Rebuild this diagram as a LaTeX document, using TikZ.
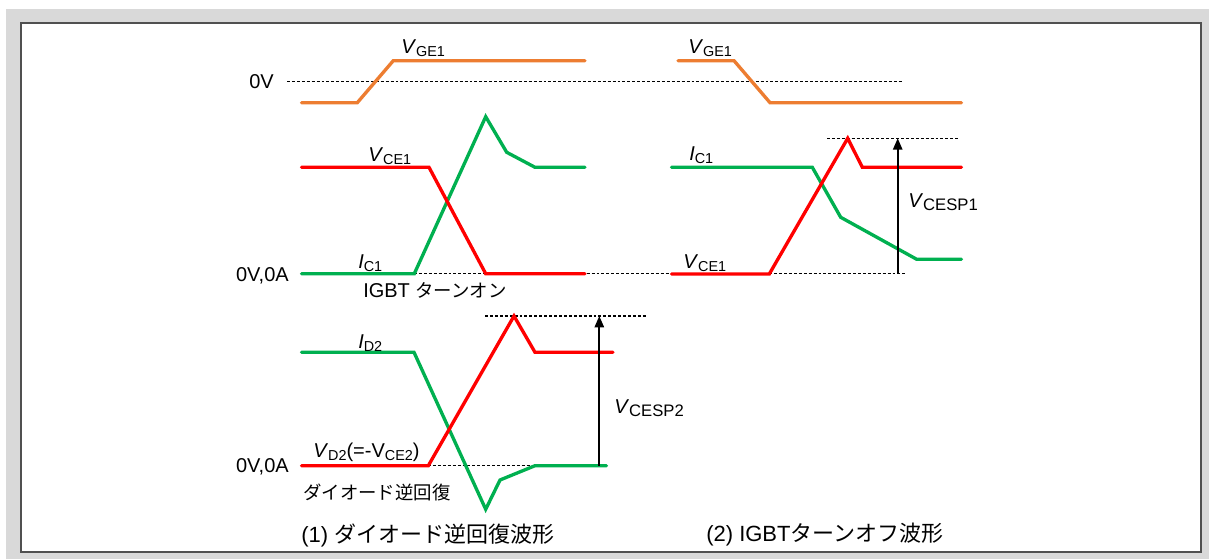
\documentclass[tikz,border=0pt]{standalone}
\usepackage{fontspec}
\setmainfont{Liberation Sans}
\newfontfamily\jp{Noto Sans CJK JP}
\usetikzlibrary{arrows.meta}
\definecolor{wfOrange}{RGB}{237,125,49}
\definecolor{wfRed}{RGB}{255,0,0}
\definecolor{wfGreen}{RGB}{0,176,80}
\definecolor{bgGray}{RGB}{217,217,217}
\definecolor{frameGray}{RGB}{80,80,80}
\newcommand\lblfont{\fontsize{15}{18}\selectfont}
\newcommand\capfont{\fontsize{16.5}{20}\selectfont}
\newcommand\jpl{\jp\fontsize{13.8}{16}\selectfont}
\newcommand\jpc{\jp\fontsize{16.5}{20}\selectfont}
\newcommand\sbs[1]{\raisebox{-2.3pt}{\fontsize{10.8}{12}\selectfont #1}}
\newcommand\sbl[1]{\raisebox{-2.3pt}{\fontsize{12.5}{14}\selectfont #1}}
\begin{document}
\begin{tikzpicture}[x=0.75pt,y=-0.75pt,
  wave/.style={line width=2.5pt, line cap=round},
  guide/.style={line width=1.05pt, dash pattern=on 2.2pt off 1.5pt},
  meas/.style={line width=1.3pt, -{Triangle[length=8.5pt,width=7pt]}},
  lab/.style={inner sep=0pt, anchor=base west, font=\lblfont},
  capt/.style={inner sep=0pt, anchor=west, font=\capfont}]
\useasboundingbox (0,0) rectangle (1209,559);
\fill[white] (0,0) rectangle (1209,559);
\fill[bgGray] (6,9) rectangle (1209,559);
\draw[fill=white, draw=frameGray, line width=1.2pt] (21,23) rectangle (1201,552);

% guide lines
\draw[guide] (287,81.7) -- (903,81.7);
\draw[guide] (414,273.7) -- (905,273.7);
\draw[guide] (827,138.3) -- (960,138.3);
\draw[guide] (428,465.7) -- (600,465.7);
\draw[guide] (485,316) -- (647,316);

% gate voltages
\draw[wave, wfOrange] (301.5,102.7) -- (357.3,102.7) -- (393.3,60.7) -- (585,60.7);
\draw[wave, wfOrange] (678,60.7) -- (734,60.7) -- (770,102.7) -- (961.5,102.7);

% IGBT turn-on
\draw[wave, wfGreen] (301.5,273.7) -- (414.3,273.7) -- (485.7,116.7) -- (506.7,152.3) -- (535,167.3) -- (585,167.3);
\draw[wave, wfRed] (301.5,167.3) -- (429,167.3) -- (485.7,273.7) -- (585,273.7);

% IGBT turn-off
\draw[wave, wfGreen] (671.5,167.3) -- (812.3,167.3) -- (840.7,217.3) -- (916.7,259.3) -- (961.5,259.3);
\draw[wave, wfRed] (671.5,274) -- (769.3,274) -- (847.7,138.3) -- (862.3,167.3) -- (961.5,167.3);

% diode reverse recovery
\draw[wave, wfGreen] (301.5,352.3) -- (414,352.3) -- (485.7,509.3) -- (500,480) -- (535,465.7) -- (606.5,465.7);
\draw[wave, wfRed] (301.5,465.7) -- (428.3,465.7) -- (514,316) -- (535,352.3) -- (613,352.3);

% measurement arrows
\coordinate (sp1lo) at (897.7,274);
\coordinate (sp1hi) at (897.7,138.3);
\coordinate (sp2lo) at (599.3,465.7);
\coordinate (sp2hi) at (599.3,316);
\draw[meas] (sp1lo) -- (sp1hi);
\draw[meas] (sp2lo) -- (sp2hi);

% labels
\node[lab, anchor=base east] (zv) at (274,88.3) {0V};
\node[lab, anchor=base east] (za1) at (289,281.5) {0V,0A};
\node[lab, anchor=base east] (za2) at (289,472.5) {0V,0A};
\node[lab] (vge1a) at (401,53.3) {\textit{V}\sbs{GE1}};
\node[lab] (vge1b) at (688,53.3) {\textit{V}\sbs{GE1}};
\node[lab] (vce1a) at (368,161.7) {\textit{V}\sbs{CE1}};
\node[lab] (ic1a) at (358,268.3) {\textit{I}\sbs{C1}};
\node[lab] (ton) at (363,298) {IGBT {\jpl ターンオン}};
\node[lab] (ic1b) at (689,160.7) {\textit{I}\sbs{C1}};
\node[lab] (vce1b) at (683,268.3) {\textit{V}\sbs{CE1}};
\node[lab] (vsp1) at (908,207.7) {\textit{V}\sbl{CESP1}};
\node[lab] (id2) at (358,348.3) {\textit{I}\sbs{D2}};
\node[lab] (vd2) at (313,457.5) {\textit{V}\sbs{D2}(=-V\sbs{CE2})};
\node[lab] (vsp2) at (614,413.3) {\textit{V}\sbl{CESP2}};
\node[lab] (rr) at (303,499) {\jpl ダイオード逆回復};
\node[capt] (cap1) at (301,535) {(1) {\jpc ダイオード逆回復波形}};
\node[capt] (cap2) at (706,535) {(2) IGBT{\jpc ターンオフ波形}};
\end{tikzpicture}
\end{document}
